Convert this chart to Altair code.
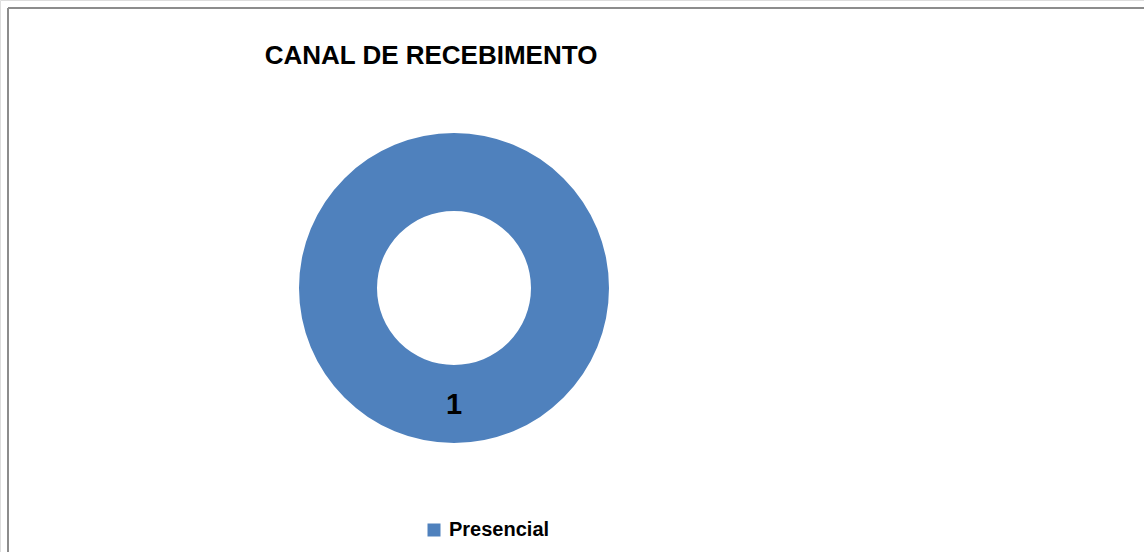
import altair as alt
import pandas as pd

categories = ["Presencial"]
values = [1]
labels = ["1"]
title_text = "CANAL DE RECEBIMENTO"

df = pd.DataFrame({"canal": categories, "valor": values, "rotulo": labels})

W, H = 1144, 552
CX, CY = 454, 288
FONT = "Liberation Sans"

base = alt.Chart(df)

donut = base.mark_arc(innerRadius=77, outerRadius=155, stroke=None).encode(
    theta=alt.Theta("valor:Q", stack=True),
    color=alt.Color(
        "canal:N",
        scale=alt.Scale(domain=categories, range=["#4F81BD"]),
        legend=alt.Legend(
            title=None,
            orient="none",
            legendX=424,
            legendY=520,
            symbolType="square",
            symbolSize=169,
            symbolStrokeWidth=0,
            labelFont=FONT,
            labelFontWeight="bold",
            labelFontSize=20,
            labelColor="#000000",
            labelOffset=5,
            padding=0,
        ),
    ),
    x=alt.value(CX),
    y=alt.value(CY),
)

label = base.mark_text(font=FONT, fontWeight="bold", fontSize=29, color="#000000", baseline="middle").encode(
    theta=alt.Theta("valor:Q", stack=True),
    radius=alt.value(117),
    text="rotulo:N",
    x=alt.value(CX),
    y=alt.value(CY),
)

title = alt.Chart(pd.DataFrame({"t": [title_text]})).mark_text(
    font=FONT, fontWeight="bold", fontSize=26, color="#000000", baseline="middle", align="center"
).encode(text="t:N", x=alt.value(431), y=alt.value(56))

frame_left = alt.Chart(pd.DataFrame({"a": [0]})).mark_rule(color="#8C8C8C", strokeWidth=2).encode(
    x=alt.value(8), y=alt.value(8), y2=alt.value(H)
)
frame_top = alt.Chart(pd.DataFrame({"a": [0]})).mark_rule(color="#8C8C8C", strokeWidth=2).encode(
    x=alt.value(8), x2=alt.value(W), y=alt.value(8)
)

chart = alt.layer(frame_left, frame_top, donut, label, title).properties(
    width=W, height=H, padding=0, autosize=alt.AutoSizeParams(type="none")
).configure_view(stroke=None).configure(background="#FFFFFF")

chart.save("out.html", embed_options={"renderer": "svg", "actions": False})
